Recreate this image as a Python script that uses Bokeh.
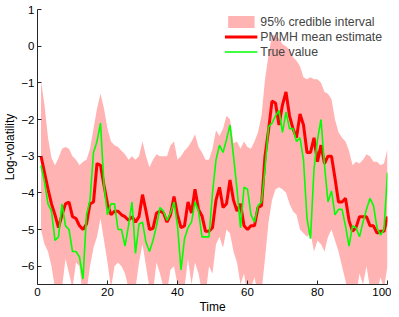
from bokeh.plotting import figure
from bokeh.embed import file_html
from bokeh.resources import INLINE
from bokeh.models import Range1d, FixedTicker, Legend, LegendItem

time = list(range(1, 101))

mean_est = [-3.0, -3.45, -3.9, -4.3, -4.6, -4.95, -4.6, -4.3, -4.25, -4.65,
            -4.7, -4.9, -5.0, -4.85, -4.3, -4.25, -3.2, -3.25, -3.8, -4.3,
            -4.6, -4.5, -4.5, -4.6, -4.65, -4.75, -4.65, -4.8, -4.65, -4.05,
            -4.5, -5.0, -4.97, -4.55, -4.5, -4.55, -4.8, -4.6, -4.1, -4.6,
            -4.95, -4.9, -4.25, -4.55, -3.9, -4.45, -4.63, -5.05, -5.05, -4.95,
            -4.2, -3.85, -4.4, -4.3, -3.65, -4.2, -4.5, -4.3, -4.9, -5.0,
            -4.9, -4.9, -4.4, -4.35, -3.0, -2.3, -1.5, -1.55, -2.15, -1.6,
            -1.25, -1.9, -2.25, -2.5, -1.85, -2.15, -2.9, -2.9, -2.5, -3.15,
            -2.7, -3.2, -3.0, -3.0, -3.6, -4.25, -4.25, -4.15, -4.75, -5.05,
            -4.95, -4.65, -4.65, -4.65, -4.9, -4.9, -5.1, -5.05, -5.05, -4.65]

true_val = [-3.25, -3.7, -4.3, -4.5, -5.3, -5.2, -4.3, -4.9, -5.0, -5.6,
            -5.6, -5.75, -6.35, -4.6, -4.2, -2.9, -2.6, -2.1, -3.8, -4.6,
            -4.3, -4.3, -5.0, -5.0, -5.45, -4.9, -4.25, -5.65, -4.85, -4.8,
            -5.35, -5.6, -5.3, -4.9, -4.4, -4.5, -4.75, -4.55, -4.25, -4.9,
            -6.1, -5.25, -4.95, -4.8, -4.25, -4.5, -5.2, -5.2, -5.2, -4.0,
            -3.1, -2.7, -2.9, -2.55, -2.15, -3.0, -3.9, -4.95, -3.85, -3.9,
            -4.6, -4.8, -4.35, -4.25, -3.35, -2.2, -2.1, -1.9, -1.75, -2.35,
            -1.8, -2.25, -2.25, -2.6, -2.5, -3.1, -4.7, -5.25, -3.35, -2.55,
            -2.0, -3.25, -4.25, -3.95, -4.6, -4.45, -4.45, -4.9, -5.45, -4.9,
            -4.95, -5.2, -4.8, -4.45, -4.15, -4.35, -4.95, -5.15, -5.0, -3.45]

ci_upper = [-0.95, -1.6, -2.5, -3.05, -3.25, -3.05, -2.8, -2.75, -2.8, -3.0,
            -3.1, -3.25, -3.15, -3.1, -2.8, -2.25, -1.7, -1.3, -1.7, -2.25,
            -2.6, -2.7, -2.75, -2.85, -2.95, -3.1, -3.0, -3.1, -3.0, -2.6,
            -3.0, -3.3, -3.1, -2.95, -3.0, -3.0, -3.0, -2.7, -2.6, -3.1,
            -3.0, -2.85, -2.75, -2.6, -2.4, -2.75, -2.9, -3.1, -3.1, -2.8,
            -2.3, -2.45, -2.25, -1.9, -2.0, -2.65, -2.6, -2.8, -2.6, -2.75,
            -2.8, -2.6, -2.35, -1.9, -0.9, -0.25, 0.3, 0.3, 0.2, 0.05,
            0.0, -0.1, -0.3, -0.4, -0.55, -0.85, -0.9, -0.85, -0.9, -0.9,
            -1.0, -1.25, -1.3, -1.45, -2.0, -2.35, -2.5, -2.6, -2.85, -3.25,
            -3.15, -3.2, -3.1, -2.95, -3.0, -3.15, -3.15, -3.25, -3.2, -2.8]

ci_lower = [-5.0, -5.4, -5.6, -6.0, -6.6, -6.9, -6.6, -5.8, -6.2, -6.6,
            -5.9, -6.0, -6.9, -6.7, -6.0, -5.5, -5.2, -4.7, -5.3, -5.9,
            -6.6, -6.0, -5.9, -6.0, -6.2, -6.6, -6.7, -6.6, -5.9, -5.4,
            -6.0, -6.6, -6.7, -5.9, -6.2, -6.6, -6.7, -6.1, -6.0, -6.5,
            -6.8, -6.6, -5.8, -6.5, -5.9, -6.2, -6.7, -6.8, -6.0, -6.2,
            -5.4, -5.2, -5.5, -5.0, -5.1, -5.6, -5.9, -6.5, -6.2, -6.8,
            -6.6, -6.3, -6.8, -6.7, -5.8, -4.8, -4.2, -3.9, -3.85, -3.9,
            -4.0, -4.3, -4.5, -4.6, -5.0, -5.1, -5.2, -5.1, -5.6, -5.3,
            -5.4, -5.6, -5.2, -5.0, -5.3, -5.6, -6.0, -6.4, -6.8, -6.6,
            -6.8, -6.2, -6.5, -6.0, -6.6, -6.8, -6.7, -6.3, -6.6, -6.0]

x_ticks = [0, 20, 40, 60, 80, 100]
y_ticks = [-6, -5, -4, -3, -2, -1, 0, 1]

FONT = "Liberation Sans"

p = figure(frame_width=350, frame_height=275, output_backend="svg", toolbar_location=None,
           x_range=Range1d(0, 100), y_range=Range1d(-6.5, 1),
           min_border_top=9, min_border_right=4, min_border_bottom=2,
           min_border_left=2)
p.outline_line_color = None
p.grid.visible = False
p.background_fill_color = "white"

band = p.varea(x=time, y1=ci_lower, y2=ci_upper, fill_color="#FFB3B3", fill_alpha=1.0)
red = p.line(time, mean_est, line_color="#FF0000", line_width=3)
green = p.line(time, true_val, line_color="#00FF00", line_width=1.6)

for ax in (p.xaxis[0], p.yaxis[0]):
    ax.major_tick_in = 4
    ax.major_tick_out = 0
    ax.minor_tick_in = 0
    ax.minor_tick_out = 0
    ax.axis_line_color = "#262626"
    ax.major_tick_line_color = "#262626"
    ax.major_label_text_font = FONT
    ax.major_label_text_font_size = "11.5px"
    ax.major_label_text_color = "#000000"
    ax.axis_label_text_font = FONT
    ax.axis_label_text_font_size = "12px"
    ax.axis_label_text_font_style = "normal"
    ax.axis_label_text_color = "#000000"

p.xaxis.ticker = FixedTicker(ticks=x_ticks)
p.yaxis.ticker = FixedTicker(ticks=y_ticks)
p.xaxis.axis_label = "Time"
p.yaxis.axis_label = "Log-volatility"
p.xaxis.major_label_standoff = 3
p.yaxis.major_label_standoff = 3
p.xaxis.axis_label_standoff = 1
p.yaxis.axis_label_standoff = 1

legend = Legend(items=[
    LegendItem(label="95% credible interval", renderers=[band]),
    LegendItem(label="PMMH mean estimate", renderers=[red]),
    LegendItem(label="True value", renderers=[green]),
], location="top_right")
legend.background_fill_alpha = 0
legend.border_line_alpha = 0
legend.label_text_font = FONT
legend.label_text_font_size = "12.3px"
legend.glyph_width = 33
legend.glyph_height = 15
legend.spacing = 0
legend.padding = 5
legend.margin = 0
legend.label_standoff = 3
legend.label_height = 15
p.add_layout(legend)

open("out.html", "w").write(file_html(p, INLINE))
